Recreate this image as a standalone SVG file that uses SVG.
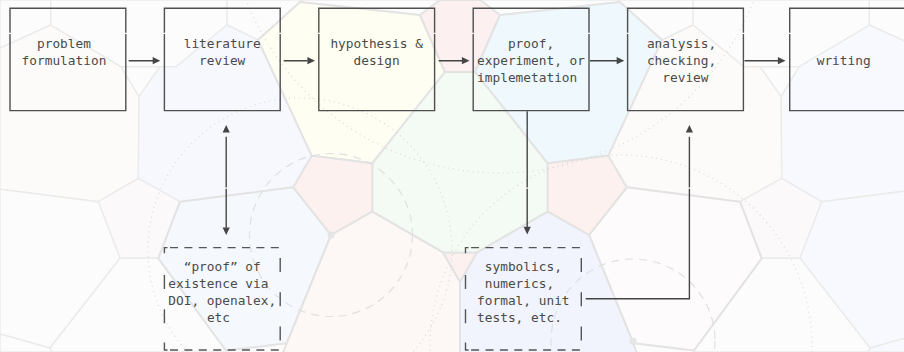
<svg xmlns="http://www.w3.org/2000/svg" width="904" height="352" viewBox="0 0 904 352">
<style>
.bg{stroke:#ebebeb;stroke-width:1.4;stroke-linejoin:round}
.bi{stroke:#e3e3e3;stroke-width:2;stroke-linejoin:round}
.dot{fill:none;stroke:#d9d9d9;stroke-width:1.2;stroke-dasharray:1 4}
.dash{fill:none;stroke:#e0e0e0;stroke-width:1.2;stroke-dasharray:8 6}
.vx{fill:#e5e5e5}
.box{fill:none;stroke:#4f4f4f;stroke-width:1.4}
.dbox{fill:none;stroke:#555555;stroke-width:1.4}
.dl{fill:none;stroke:#555555;stroke-width:1.4;stroke-dasharray:8 6.4}
.t{font-family:"DejaVu Sans Mono","Liberation Mono",monospace;font-size:12.8px;fill:#4a4a4a}
.ln{fill:none;stroke:#454545;stroke-width:1.4}
.ah{fill:#454545}
</style>
<defs>
<path id="ah" d="M0,0 L-7.6,-3.6 L-7.6,3.6 Z"/>
</defs>
<g id="background">
<rect x="0" y="0" width="904" height="352" fill="#fdfcfc"/>
<polygon class="bg" fill="#fdfcfc" points="0,0 50.7,0 50.7,25 0,48"/>
<polygon class="bg" fill="#fcfbfa" points="0,48 50.7,25 121,66.7 139,96.7 138.3,178.3 98.3,201.7 0,189.3"/>
<polygon class="bg" fill="#fdfcfc" points="50.7,0 50.7,25 121,66.7 176,66.7 227,25 227,0"/>
<polygon class="bg" fill="#fdfcfc" points="121,66.7 160,66.7 139,96.7"/>
<polygon class="bg" fill="#fdfcfc" points="227,0 227,25 258,40 300,2 302,0"/>
<polygon class="bg" fill="#fdfcfc" points="302,0 300,2 420,15 440,0"/>
<polygon class="bg" fill="#f7f8fd" points="227,25 176,66.7 160,66.7 139,96.7 138.3,178.3 180,201.7 293.3,187.3 311.7,155.7 258,40"/>
<polygon class="bg" fill="#fbf9f9" points="138.3,178.3 180,201.7 158.3,258.3 120,258.3 98.3,201.7"/>
<polygon class="bg" fill="#fdfcfc" points="0,189.3 98.3,201.7 120,258.3 50,348 0,334"/>
<polygon class="bg" fill="#fdfcfc" points="0,334 50,348 52,352 0,352"/>
<polygon class="bg" fill="#fdfcfc" points="120,258.3 158.3,258.3 226,350.5 226,352 52,352 50,348"/>
<polygon class="bg" fill="#fdfcfc" points="920,0 869.3,0 869.3,25 920,48"/>
<polygon class="bg" fill="#f8f9fe" points="920,48 869.3,25 799,66.7 781,96.7 781.7,178.3 821.7,201.7 920,189.3"/>
<polygon class="bg" fill="#fdfcfc" points="869.3,0 869.3,25 799,66.7 744,66.7 693,25 693,0"/>
<polygon class="bg" fill="#fdfcfc" points="799,66.7 760,66.7 781,96.7"/>
<polygon class="bg" fill="#fdfcfc" points="693,0 693,25 662,40 620,2 618,0"/>
<polygon class="bg" fill="#fdfcfc" points="618,0 620,2 500,15 480,0"/>
<polygon class="bg" fill="#fdfafa" points="693,25 744,66.7 760,66.7 781,96.7 781.7,178.3 740,201.7 626.7,187.3 608.3,155.7 662,40"/>
<polygon class="bg" fill="#fbf9f9" points="781.7,178.3 740,201.7 761.7,258.3 800,258.3 821.7,201.7"/>
<polygon class="bg" fill="#f8f9fe" points="920,189.3 821.7,201.7 800,258.3 870,348 920,334"/>
<polygon class="bg" fill="#f8f9fe" points="920,334 870,348 868,352 920,352"/>
<polygon class="bg" fill="#fdfcfc" points="800,258.3 761.7,258.3 694,350.5 694,352 868,352 870,348"/>
<polygon class="bi" fill="#fefef3" points="311.7,155.7 258,40 300,2 420,15 445,72 372.3,163.3"/>
<polygon class="bi" fill="#fdf0f0" points="420,15 440,0 480,0 500,15 475,72 445,72"/>
<polygon class="bi" fill="#eff9fd" points="608.3,155.7 662,40 620,2 500,15 475,72 547.7,163.3"/>
<polygon class="bi" fill="#f4faf4" points="372.3,163.3 445,72 475,72 547.7,163.3 547.7,211.7 476.7,252.7 443.3,252.7 372.3,211.7"/>
<polygon class="bi" fill="#f5f9fd" points="180,201.7 293.3,187.3 331,235 286.7,343.3 226,350.5 158.3,258.3"/>
<polygon class="bi" fill="#fdfbfb" points="740,201.7 626.7,187.3 589,235 633.3,343.3 694,350.5 761.7,258.3"/>
<polygon class="bi" fill="#fdf1f0" points="311.7,155.7 372.3,163.3 372.3,211.7 331,235 293.3,187.3"/>
<polygon class="bi" fill="#fdf1f0" points="608.3,155.7 547.7,163.3 547.7,211.7 589,235 626.7,187.3"/>
<polygon class="bi" fill="#fdf7f5" points="372.3,211.7 443.3,252.7 460,281.7 460,353 283,353 286.7,343.3 331,235"/>
<polygon class="bi" fill="#f2f4fd" points="547.7,211.7 476.7,252.7 460,281.7 460,353 637,353 633.3,343.3 589,235"/>
<polygon class="bi" fill="#fdf1f0" points="443.3,252.7 476.7,252.7 460,281.7"/>
<circle class="dot" cx="300" cy="250" r="152"/>
<circle class="dot" cx="621" cy="346" r="191"/>
<circle class="dot" cx="500" cy="-100" r="273"/>
<circle class="dash" cx="331" cy="235" r="81.5"/>
<circle class="dash" cx="633" cy="341" r="82"/>
<circle class="vx" cx="331" cy="235" r="3.6"/>
<circle class="vx" cx="633" cy="341" r="3.6"/>
</g>
<g id="connectors">
<path class="ln" d="M128.7,60.7 H153 M283.7,60.7 H307.5 M438.7,60.7 H462 M590,60.7 H617 M744.5,60.7 H778"/>
<use href="#ah" class="ah" transform="translate(160.3,60.7)"/>
<use href="#ah" class="ah" transform="translate(315,60.7)"/>
<use href="#ah" class="ah" transform="translate(469.5,60.7)"/>
<use href="#ah" class="ah" transform="translate(624.3,60.7)"/>
<use href="#ah" class="ah" transform="translate(785.5,60.7)"/>
<path class="ln" d="M226.2,136.7 V187.5 M226.2,188.7 V227.8"/>
<use href="#ah" class="ah" transform="translate(226.2,125) rotate(-90)"/>
<use href="#ah" class="ah" transform="translate(226.2,235) rotate(90)"/>
<path class="ln" d="M527.2,111.3 V187.5 M527.2,188.7 V227"/>
<use href="#ah" class="ah" transform="translate(527.2,234.4) rotate(90)"/>
<path class="ln" d="M585.7,298.7 H689.4 V188.7 M689.4,187.5 V136.7"/>
<use href="#ah" class="ah" transform="translate(689.4,125) rotate(-90)"/>
</g>
<g id="node-problem">
<path class="box" d="M10,32.8 V8.2 H125.8 V32.8 M125.8,33.9 V110.6 H10 V33.9"/>
<text class="t" x="37" y="48.2">problem</text>
<text class="t" x="21.6" y="65.3">formulation</text>
</g>
<g id="node-literature">
<path class="box" d="M164.4,32.8 V8.2 H280.2 V32.8 M280.2,33.9 V110.6 H164.4 V33.9"/>
<text class="t" x="183.7" y="48.2">literature</text>
<text class="t" x="199.1" y="65.3">review</text>
</g>
<g id="node-hypothesis">
<path class="box" d="M318.8,32.8 V8.2 H434.6 V32.8 M434.6,33.9 V110.6 H318.8 V33.9"/>
<text class="t" x="330.4" y="48.2">hypothesis &amp;</text>
<text class="t" x="353.5" y="65.3">design</text>
</g>
<g id="node-proof">
<path class="box" d="M473.2,32.8 V8.2 H589 V32.8 M589,33.9 V110.6 H473.2 V33.9"/>
<text class="t" x="507.9" y="48.2">proof,</text>
<text class="t" x="477.1" y="65.3">experiment, or</text>
<text class="t" x="477.1" y="82.4">implemetation</text>
</g>
<g id="node-analysis">
<path class="box" d="M627.6,32.8 V8.2 H743.4 V32.8 M743.4,33.9 V110.6 H627.6 V33.9"/>
<text class="t" x="646.9" y="48.2">analysis,</text>
<text class="t" x="646.9" y="65.3">checking,</text>
<text class="t" x="662.3" y="82.4">review</text>
</g>
<g id="node-writing">
<path class="box" d="M789.7,32.8 V8.2 H905.5 V32.8 M905.5,33.9 V110.6 H789.7 V33.9"/>
<text class="t" x="816.7" y="65.3">writing</text>
</g>
<g id="node-existence">
<path class="dbox" d="M164.4,253.2 V247.6 H167.5 M164.4,342.5 V350 H167.5 M280.2,258 V272 M280.2,292.2 V306.2 M280.2,326.4 V340.4 M164.4,275.1 V289.1 M164.4,309.3 V323.3"/>
<path class="dl" d="M170,247.6 H279 M170,350 H279"/>
<text class="t" x="183.7" y="270.5">“proof” of</text>
<text class="t" x="168.3" y="287.6">existence via</text>
<text class="t" x="168.3" y="304.7">DOI, openalex,</text>
<text class="t" x="206.9" y="321.8">etc</text>
</g>
<g id="node-symbolics">
<path class="dbox" d="M465.5,253.2 V247.6 H468.6 M465.5,342.5 V350 H468.6 M581.3,258 V272 M581.3,292.2 V306.2 M581.3,326.4 V340.4 M465.5,275.1 V289.1 M465.5,309.3 V323.3"/>
<path class="dl" d="M471.1,247.6 H580.1 M471.1,350 H580.1"/>
<text class="t" x="484.8" y="270.5">symbolics,</text>
<text class="t" x="484.8" y="287.6">numerics,</text>
<text class="t" x="477.1" y="304.7">formal, unit</text>
<text class="t" x="477.1" y="321.8">tests, etc.</text>
</g>
</svg>
